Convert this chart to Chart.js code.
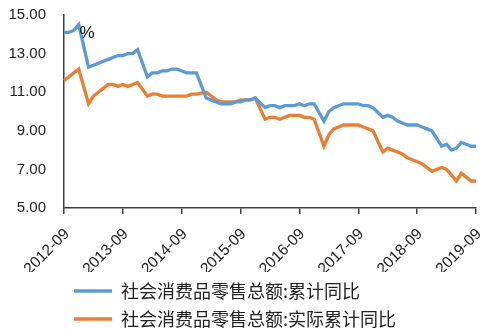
<!DOCTYPE html>
<html>
<head>
<meta charset="utf-8">
<script src="https://cdn.jsdelivr.net/npm/chart.js@4"></script>
<style>
    html, body { margin: 0; padding: 0; background: #fff; overflow: hidden; }
    #wrap { width: 493px; height: 330px; }
</style>
</head>
<body>
<div id="wrap"><canvas id="lineGraph"></canvas></div>
<script>
// Monthly labels, 2012-09 .. 2019-09 (January has no data: Jan-Feb are reported together)
const months = [
    '2012-09', '2012-10', '2012-11', '2012-12',
    '2013-01', '2013-02', '2013-03', '2013-04', '2013-05', '2013-06', '2013-07', '2013-08', '2013-09', '2013-10', '2013-11', '2013-12',
    '2014-01', '2014-02', '2014-03', '2014-04', '2014-05', '2014-06', '2014-07', '2014-08', '2014-09', '2014-10', '2014-11', '2014-12',
    '2015-01', '2015-02', '2015-03', '2015-04', '2015-05', '2015-06', '2015-07', '2015-08', '2015-09', '2015-10', '2015-11', '2015-12',
    '2016-01', '2016-02', '2016-03', '2016-04', '2016-05', '2016-06', '2016-07', '2016-08', '2016-09', '2016-10', '2016-11', '2016-12',
    '2017-01', '2017-02', '2017-03', '2017-04', '2017-05', '2017-06', '2017-07', '2017-08', '2017-09', '2017-10', '2017-11', '2017-12',
    '2018-01', '2018-02', '2018-03', '2018-04', '2018-05', '2018-06', '2018-07', '2018-08', '2018-09', '2018-10', '2018-11', '2018-12',
    '2019-01', '2019-02', '2019-03', '2019-04', '2019-05', '2019-06', '2019-07', '2019-08', '2019-09'
];

// 社会消费品零售总额:累计同比 (%)
const nominalYoy = [
    14.1, 14.1, 14.2, 14.5,
    null, 12.3, 12.4, 12.5, 12.6, 12.7, 12.8, 12.9, 12.9, 13.0, 13.0, 13.2,
    null, 11.8, 12.0, 12.0, 12.1, 12.1, 12.2, 12.2, 12.1, 12.0, 12.0, 12.0,
    null, 10.7, 10.6, 10.5, 10.4, 10.4, 10.4, 10.5, 10.5, 10.6, 10.6, 10.7,
    null, 10.2, 10.3, 10.3, 10.2, 10.3, 10.3, 10.3, 10.4, 10.3, 10.4, 10.4,
    null, 9.5, 10.0, 10.2, 10.3, 10.4, 10.4, 10.4, 10.4, 10.3, 10.3, 10.2,
    null, 9.7, 9.8, 9.7, 9.5, 9.4, 9.3, 9.3, 9.3, 9.2, 9.1, 9.0,
    null, 8.2, 8.3, 8.0, 8.1, 8.4, 8.3, 8.2, 8.2
];

// 社会消费品零售总额:实际累计同比 (%)
const realYoy = [
    11.6, 11.8, 12.0, 12.2,
    null, 10.4, 10.8, 11.0, 11.2, 11.4, 11.4, 11.3, 11.4, 11.3, 11.4, 11.5,
    null, 10.8, 10.9, 10.9, 10.8, 10.8, 10.8, 10.8, 10.8, 10.8, 10.9, 10.9,
    null, 11.0, 10.8, 10.6, 10.5, 10.5, 10.5, 10.5, 10.6, 10.6, 10.6, 10.7,
    null, 9.6, 9.7, 9.7, 9.6, 9.7, 9.8, 9.8, 9.8, 9.7, 9.7, 9.6,
    null, 8.2, 8.8, 9.1, 9.2, 9.3, 9.3, 9.3, 9.3, 9.2, 9.1, 9.0,
    null, 7.9, 8.1, 8.0, 7.9, 7.8, 7.6, 7.5, 7.4, 7.3, 7.1, 6.9,
    null, 7.1, 7.0, 6.7, 6.4, 6.8, 6.6, 6.4, 6.4
];

const seriesNames = ['社会消费品零售总额:累计同比', '社会消费品零售总额:实际累计同比'];
const yTicks = [5, 7, 9, 11, 13, 15];
const unitLabel = '%';

const TEXT = '#222';
const AXIS = '#404040';
const LATIN = "'Liberation Sans', Arial, sans-serif";
const CJK = "'Noto Sans CJK SC', 'Noto Sans', sans-serif";

// unit label in the top left corner of the plot
const unitPlugin = {
    id: 'unitLabel',
    afterDatasetsDraw(chart) {
        const { ctx, chartArea } = chart;
        ctx.save();
        ctx.fillStyle = '#111';
        ctx.font = '17px ' + LATIN;
        ctx.textAlign = 'center';
        ctx.textBaseline = 'middle';
        ctx.fillText(unitLabel, chartArea.left + 23, chartArea.top + 18);
        ctx.restore();
    }
};

const lineGraph = new Chart(
    document.getElementById('lineGraph').getContext('2d'),
    {
        type: 'line',
        data: {
            labels: months,
            datasets: [
                {
                    label: seriesNames[0],
                    data: nominalYoy,
                    borderColor: '#5B9BD5',
                    backgroundColor: '#5B9BD5',
                    borderWidth: 3.3,
                    pointRadius: 0,
                    tension: 0,
                    spanGaps: true,
                    fill: false
                },
                {
                    label: seriesNames[1],
                    data: realYoy,
                    borderColor: '#ED7D31',
                    backgroundColor: '#ED7D31',
                    borderWidth: 3.3,
                    pointRadius: 0,
                    tension: 0,
                    spanGaps: true,
                    fill: false
                }
            ]
        },
        options: {
            responsive: true,
            maintainAspectRatio: false,
            animation: false,
            layout: { padding: { top: 15, right: 17, bottom: -8, left: 0 } },
            plugins: {
                tooltip: { enabled: false },
                legend: {
                    position: 'bottom',
                    align: 'start',
                    fullSize: false,
                    labels: {
                        usePointStyle: true,
                        pointStyle: 'line',
                        pointStyleWidth: 38,
                        padding: 10,
                        color: TEXT,
                        font: { family: CJK, size: 18 }
                    }
                }
            },
            scales: {
                x: {
                    type: 'category',
                    afterFit: scale => {
                        scale.height = 64;
                        scale.paddingLeft = 0;
                        scale.paddingRight = 0;
                    },
                    grid: {
                        display: true,
                        drawOnChartArea: false,
                        drawTicks: true,
                        tickLength: 6,
                        color: AXIS,
                        lineWidth: 1.5
                    },
                    border: { display: true, color: AXIS, width: 1.5 },
                    ticks: {
                        autoSkip: false,
                        maxRotation: 45,
                        minRotation: 45,
                        padding: 11,
                        labelOffset: 3,
                        color: TEXT,
                        font: { family: LATIN, size: 15.5 },
                        callback: (value, index) => months[index].endsWith('-09') ? months[index] : null
                    }
                },
                y: {
                    min: yTicks[0],
                    max: yTicks[yTicks.length - 1],
                    afterFit: scale => { scale.width = 64; },
                    afterBuildTicks: scale => { scale.ticks = yTicks.map(v => ({ value: v })); },
                    // invisible tick marks keep the labels clear of the axis line
                    grid: { display: true, drawOnChartArea: false, drawTicks: true, tickLength: 16, color: 'rgba(0,0,0,0)' },
                    border: { display: true, color: AXIS, width: 1.5 },
                    ticks: {
                        padding: 2,
                        color: TEXT,
                        font: { family: LATIN, size: 15 },
                        callback: value => value.toFixed(2)
                    }
                }
            }
        },
        plugins: [unitPlugin]
    }
);
</script>
</body>
</html>
